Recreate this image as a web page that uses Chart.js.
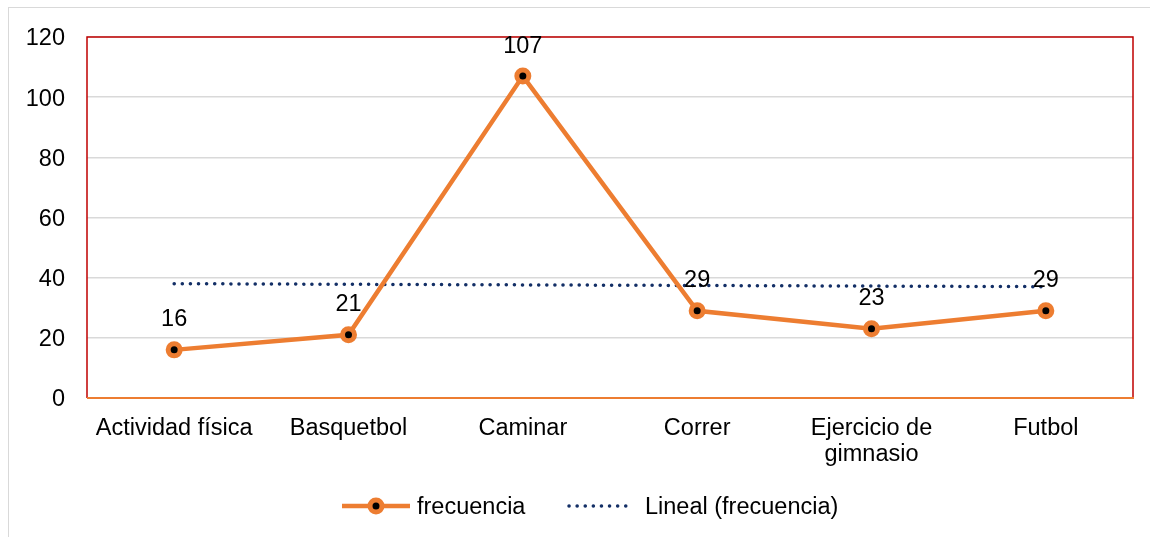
<!DOCTYPE html>
<html>
<head>
<meta charset="utf-8">
<script src="https://cdn.jsdelivr.net/npm/chart.js@4"></script>
<style>
  html, body { margin: 0; padding: 0; background: #fff; overflow: hidden; }
  #wrap { position: absolute; left: 0; top: 0; width: 1150px; height: 537px; }
  #frame { position: absolute; left: 8px; top: 7px; width: 1200px; height: 600px; border: 1px solid #d9d9d9; box-sizing: border-box; }
</style>
</head>
<body>
<div id="wrap">
  <div id="frame"></div>
  <canvas id="chart" width="1150" height="537" style="position:absolute;left:0;top:0"></canvas>
</div>
<script>
const categories = ["Actividad física", "Basquetbol", "Caminar", "Correr", ["Ejercicio de", "gimnasio"], "Futbol"];
const frecuencia = [16, 21, 107, 29, 23, 29];
const tendencia = [38.0, 37.8, 37.6, 37.4, 37.2, 37.0];
const yTicks = [0, 20, 40, 60, 80, 100, 120];

const FONT = "'Liberation Sans', Arial, sans-serif";
const FSIZE = 23.5;
const ORANGE = "#ED7D31";
const NAVY = "#132F66";

// red frame on three sides, orange x axis line
const framePlugin = {
    id: "frame",
    afterDatasetsDraw(chart) {
        const { ctx, chartArea: a } = chart;
        ctx.save();
        ctx.strokeStyle = "#C00000";
        ctx.lineWidth = 1.5;
        ctx.beginPath();
        ctx.moveTo(a.left, a.bottom);
        ctx.lineTo(a.left, a.top);
        ctx.lineTo(a.right, a.top);
        ctx.lineTo(a.right, a.bottom);
        ctx.stroke();
        ctx.strokeStyle = ORANGE;
        ctx.lineWidth = 2;
        ctx.beginPath();
        ctx.moveTo(a.left, a.bottom);
        ctx.lineTo(a.right + 1, a.bottom);
        ctx.stroke();
        ctx.restore();
    }
};

// value labels above the points
const labelPlugin = {
    id: "labels",
    afterDatasetsDraw(chart) {
        const { ctx } = chart;
        const meta = chart.getDatasetMeta(0);
        ctx.save();
        ctx.font = FSIZE + "px " + FONT;
        ctx.fillStyle = "#000";
        ctx.textAlign = "center";
        ctx.textBaseline = "middle";
        meta.data.forEach((pt, i) => {
            ctx.fillText(String(frecuencia[i]), pt.x, pt.y - 30);
        });
        ctx.restore();
    }
};

// legend drawn by hand, centred under the chart
const legendPlugin = {
    id: "customLegend",
    afterDraw(chart) {
        const { ctx } = chart;
        const y = 506;
        ctx.save();
        ctx.font = FSIZE + "px " + FONT;
        ctx.textBaseline = "middle";
        ctx.textAlign = "left";

        ctx.strokeStyle = ORANGE;
        ctx.lineWidth = 4.5;
        ctx.beginPath();
        ctx.moveTo(342, y);
        ctx.lineTo(410, y);
        ctx.stroke();
        ctx.beginPath();
        ctx.arc(376, y, 6, 0, Math.PI * 2);
        ctx.fillStyle = "#000";
        ctx.fill();
        ctx.lineWidth = 5;
        ctx.stroke();
        ctx.fillStyle = "#000";
        ctx.fillText("frecuencia", 417, y + 2);

        ctx.strokeStyle = NAVY;
        ctx.lineWidth = 3.5;
        ctx.lineCap = "round";
        ctx.setLineDash([0.1, 8]);
        ctx.beginPath();
        ctx.moveTo(569, y);
        ctx.lineTo(633, y);
        ctx.stroke();
        ctx.setLineDash([]);
        ctx.fillText("Lineal (frecuencia)", 645, y + 2);
        ctx.restore();
    }
};

new Chart(document.getElementById("chart"), {
    type: "line",
    data: {
        labels: categories,
        datasets: [{
            label: "frecuencia",
            data: frecuencia,
            borderColor: ORANGE,
            borderWidth: 4.5,
            pointRadius: 6,
            pointBorderWidth: 5,
            pointBorderColor: ORANGE,
            pointBackgroundColor: "#000",
            tension: 0,
            order: 1
        }, {
            label: "Lineal (frecuencia)",
            data: tendencia,
            borderColor: NAVY,
            borderWidth: 3.5,
            borderDash: [0.1, 8],
            borderCapStyle: "round",
            pointRadius: 0,
            tension: 0,
            order: 2
        }]
    },
    options: {
        responsive: false,
        animation: false,
        layout: { padding: { top: 37, right: 17, left: 0, bottom: 0 } },
        plugins: {
            legend: { display: false },
            tooltip: { enabled: false }
        },
        scales: {
            x: {
                offset: true,
                grid: { display: false },
                border: { display: false },
                ticks: {
                    color: "#000",
                    font: { family: FONT, size: FSIZE, lineHeight: 1.12 },
                    padding: 9,
                    maxRotation: 0,
                    autoSkip: false
                },
                afterFit(scale) { scale.height = 139; }
            },
            y: {
                min: 0,
                max: 120,
                afterBuildTicks(scale) { scale.ticks = yTicks.map(v => ({ value: v })); },
                grid: { color: "#d9d9d9", lineWidth: 1.5, drawTicks: false },
                border: { display: false },
                ticks: {
                    color: "#000",
                    font: { family: FONT, size: FSIZE },
                    padding: 22,
                    labelOffset: 2
                },
                afterFit(scale) { scale.width = 87; }
            }
        }
    },
    plugins: [framePlugin, labelPlugin, legendPlugin]
});
</script>
</body>
</html>
